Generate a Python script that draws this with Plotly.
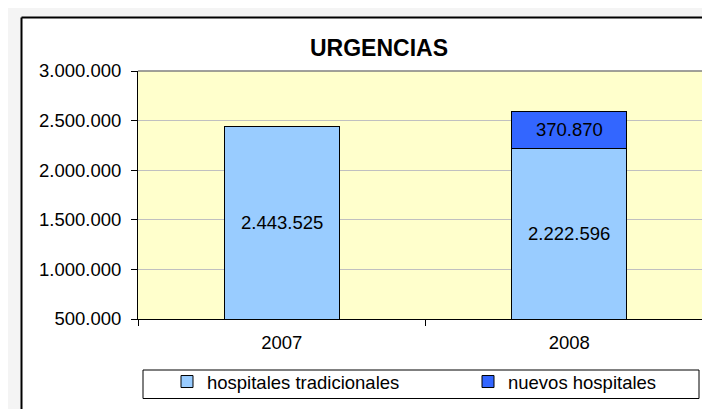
import plotly.graph_objects as go

years = ["2007", "2008"]
tradicionales = [2443525, 2222596]
nuevos = [None, 370870]
y_ticks = [500000, 1000000, 1500000, 2000000, 2500000, 3000000]
y_range = [500000, 3000000]

W, H = 710, 409
ML, MR, MT, MB = 130, 5, 63, 98
PW, PH = W - ML - MR, H - MT - MB


def px_x(p):
    return (p - ML) / PW


def px_y(p):
    return (H - MB - p) / PH


def fmt(v):
    return f"{v:,}".replace(",", ".")


FONT = "Liberation Sans, Arial, sans-serif"
FS = 18.5

fig = go.Figure()
fig.add_trace(go.Bar(
    x=years, y=tradicionales, name="hospitales tradicionales",
    marker=dict(color="#99CCFF", line=dict(color="black", width=1)),
    textposition="none", legend="legend",
))
fig.add_trace(go.Bar(
    x=years, y=nuevos, name="nuevos hospitales",
    marker=dict(color="#3366FF", line=dict(color="black", width=1)),
    textposition="none", legend="legend2",
))

# value labels centred in the visible part of each segment
# (category axis: annotation x given as category index)
annotations = []
for i, yr in enumerate(years):
    base = 0
    for series in (tradicionales, nuevos):
        v = series[i]
        if v is None:
            continue
        lo = max(base, y_range[0])
        hi = min(base + v, y_range[1])
        annotations.append(dict(x=i, y=(lo + hi) / 2, xref="x", yref="y",
                                text=fmt(v), showarrow=False,
                                font=dict(size=FS, color="black", family=FONT)))
        base += v

shapes = [
    # grey surround outside the chart frame
    dict(type="rect", xref="paper", yref="paper", x0=px_x(-5), x1=px_x(13.5),
         y0=px_y(420), y1=px_y(-5), fillcolor="#f4f4f4", line=dict(width=0), layer="below"),
    dict(type="rect", xref="paper", yref="paper", x0=px_x(-5), x1=px_x(720),
         y0=px_y(9.5), y1=px_y(-5), fillcolor="#f4f4f4", line=dict(width=0), layer="below"),
    # chart frame
    dict(type="line", xref="paper", yref="paper", x0=px_x(13.5), x1=px_x(13.5),
         y0=px_y(420), y1=px_y(9.5), line=dict(color="black", width=2)),
    dict(type="line", xref="paper", yref="paper", x0=px_x(13.5), x1=px_x(720),
         y0=px_y(9.5), y1=px_y(9.5), line=dict(color="black", width=2)),
    # plot area top/right border (grey)
    dict(type="line", xref="paper", yref="paper", x0=0, x1=1, y0=1, y1=1,
         line=dict(color="#808080", width=1.5)),
    dict(type="line", xref="paper", yref="paper", x0=1, x1=1, y0=0, y1=1,
         line=dict(color="#808080", width=1.5)),
    # legend box
    dict(type="rect", xref="paper", yref="paper", x0=px_x(135), x1=px_x(691),
         y0=px_y(390.5), y1=px_y(362), line=dict(color="black", width=1),
         fillcolor="white", layer="below"),
]

leg_common = dict(orientation="h", xanchor="left", yanchor="middle", y=px_y(374),
                  bgcolor="rgba(0,0,0,0)", borderwidth=0,
                  font=dict(size=FS, family=FONT, color="black"),
                  itemclick=False, itemdoubleclick=False)

fig.update_layout(
    width=W, height=H,
    margin=dict(l=ML, r=MR, t=MT, b=MB, pad=0, autoexpand=False),
    paper_bgcolor="white", plot_bgcolor="#FFFFCC",
    separators=",.",
    barmode="stack", bargap=0.6,
    font=dict(family=FONT, size=FS, color="black"),
    title=dict(text="<b>URGENCIAS</b>", x=371 / W, xref="container", xanchor="center",
               y=1 - 40 / H, yref="container", yanchor="middle",
               font=dict(size=23, color="black", family=FONT)),
    showlegend=True,
    legend=dict(x=px_x(159), **leg_common),
    legend2=dict(x=px_x(460), **leg_common),
    shapes=shapes,
    annotations=annotations,
)
fig.update_xaxes(
    type="category", showline=True, linecolor="black", linewidth=1,
    ticks="outside", tickson="boundaries", ticklen=6, tickcolor="black",
    showgrid=False, ticklabelstandoff=7, automargin=False,
    tickfont=dict(size=FS, family=FONT, color="black"),
)
fig.update_yaxes(
    range=y_range, tickvals=y_ticks, tickformat=",d",
    showline=True, linecolor="black", linewidth=1,
    ticks="outside", ticklen=6, tickcolor="black", ticklabelstandoff=6,
    showgrid=True, gridcolor="#C0C0C0", gridwidth=1, zeroline=False, automargin=False,
    tickfont=dict(size=FS, family=FONT, color="black"),
)

fig.write_html("out.html")
